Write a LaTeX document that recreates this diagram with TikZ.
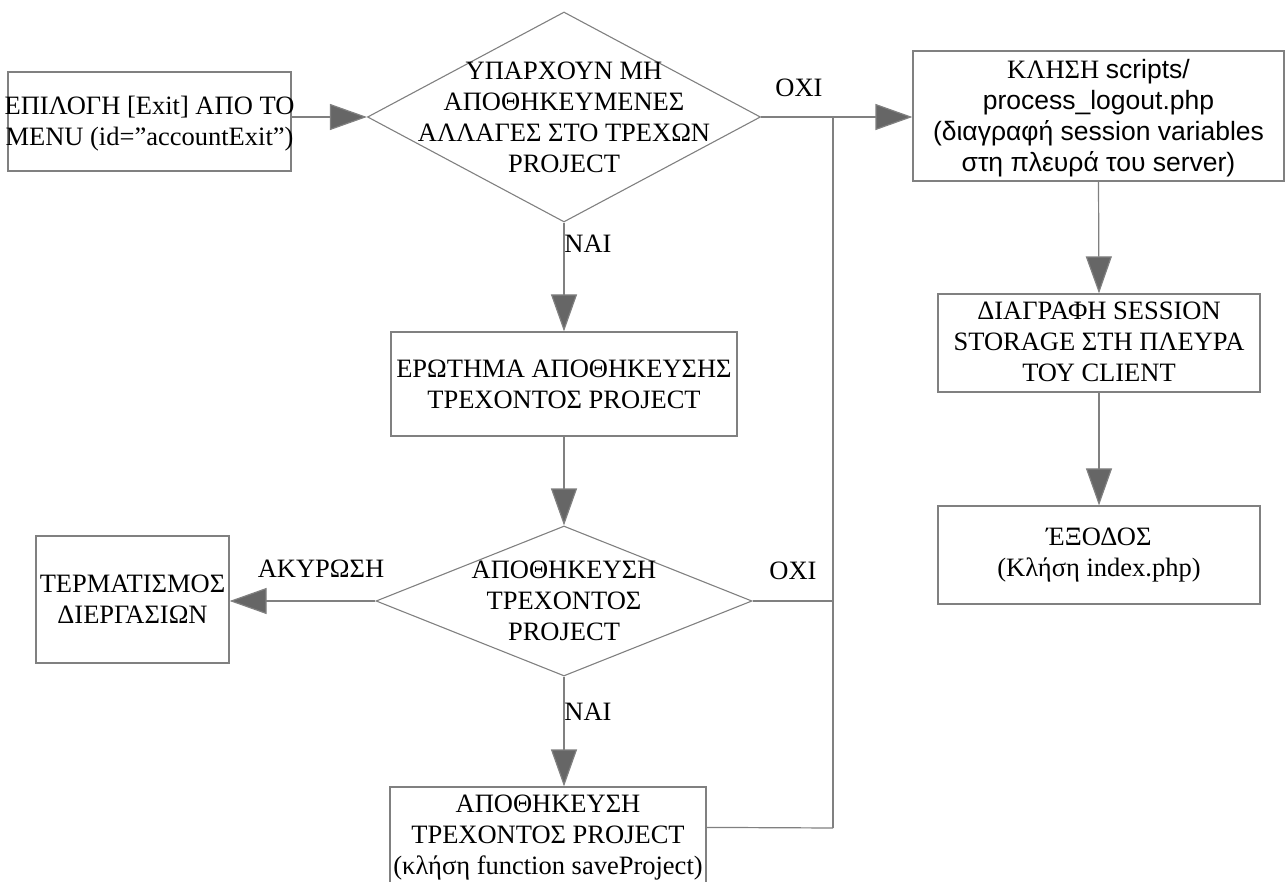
\documentclass[tikz,border=0pt]{standalone}
\usepackage{fontspec}
\setmainfont{Liberation Serif}
\setsansfont{Liberation Sans}
\usetikzlibrary{shapes.geometric,arrows.meta,calc}
\definecolor{edge}{HTML}{808080}
\definecolor{tipfill}{HTML}{666666}
\begin{document}
\begin{tikzpicture}[x=1pt,y=-1pt,
  box/.style={draw=edge, line width=1.2pt, rectangle, inner sep=0pt},
  decision/.style={draw=edge, line width=1.1pt, diamond, inner sep=0pt},
  txt/.style={align=center, font=\fontsize{26.5}{31}\selectfont, inner sep=0pt, text=black},
  flow/.style={draw=edge, line width=1.2pt, -{Triangle[length=37pt,width=26pt,fill=tipfill]}},
  link/.style={draw=edge, line width=1.2pt},
  tag/.style={font=\fontsize{26.5}{31}\selectfont, inner sep=0pt}]
\useasboundingbox (0,0) rectangle (1286,882);
\clip (0,0) rectangle (1286,882);

% process boxes
\node[box, minimum width=283pt, minimum height=99pt,
  label={[txt, yshift=-2.5pt]center:{ΕΠΙΛΟΓΗ [Exit] ΑΠΟ ΤΟ\\MENU (id=”accountExit”)}}]
  (b1) at (149.5,121.5) {};
\node[box, minimum width=346pt, minimum height=104pt,
  label={[txt]center:{ΕΡΩΤΗΜΑ ΑΠΟΘΗΚΕΥΣΗΣ\\ΤΡΕΧΟΝΤΟΣ PROJECT}}]
  (q) at (564,384) {};
\node[box, minimum width=193pt, minimum height=127pt,
  label={[txt]center:{ΤΕΡΜΑΤΙΣΜΟΣ\\ΔΙΕΡΓΑΣΙΩΝ}}]
  (t) at (132.5,599.5) {};
\node[box, minimum width=316pt, minimum height=113pt,
  label={[txt, yshift=5.5pt]center:{ΑΠΟΘΗΚΕΥΣΗ\\ΤΡΕΧΟΝΤΟΣ PROJECT\\(κλήση function saveProject)}}]
  (s) at (548,843.5) {};
\node[box, minimum width=371pt, minimum height=130pt,
  label={[txt, yshift=-2pt]center:{ΚΛΗΣΗ \textsf{scripts/}\\\textsf{process\_logout.php}\\\textsf{(διαγραφή session variables}\\\textsf{στη πλευρά του server)}}}]
  (r1) at (1098.5,116) {};
\node[box, minimum width=322pt, minimum height=98pt,
  label={[txt, yshift=1pt]center:{ΔΙΑΓΡΑΦΗ SESSION\\STORAGE ΣΤΗ ΠΛΕΥΡΑ\\ΤΟΥ CLIENT}}]
  (r2) at (1099,343) {};
\node[box, minimum width=322pt, minimum height=98pt,
  label={[txt]center:{ΈΞΟΔΟΣ\\(Κλήση index.php)}}]
  (r3) at (1099,555) {};

% decisions
\node[decision, minimum width=393pt, minimum height=210pt,
  label={[txt]center:{ΥΠΑΡΧΟΥΝ ΜΗ\\ΑΠΟΘΗΚΕΥΜΕΝΕΣ\\ΑΛΛΑΓΕΣ ΣΤΟ ΤΡΕΧΩΝ\\PROJECT}}]
  (d1) at (564,117) {};
\node[decision, minimum width=376pt, minimum height=150pt,
  label={[txt]center:{ΑΠΟΘΗΚΕΥΣΗ\\ΤΡΕΧΟΝΤΟΣ\\PROJECT}}]
  (d2) at (564,601) {};

% junction points on the shared return line
\coordinate (j1) at (833,117);
\coordinate (j2) at (833,601);
\coordinate (j3) at (833,828);
\coordinate (sout) at ($(s.north east)+(0,41)$);

% connectors
\draw[flow] (b1.east |- d1.west) -- (d1.west);
\draw[flow] (d1.east) -- (d1.east -| r1.west);
\draw[flow] (d1.south) -- (q.north);
\draw[flow] (q.south) -- (d2.north);
\draw[flow] (d2.south) -- (d2.south |- s.north);
\draw[flow] (d2.west) -- (d2.west -| t.east);
\draw[flow] (r1.south) -- (r2.north);
\draw[flow] (r2.south) -- (r3.north);
\draw[link] (j1) -- (j3);
\draw[link] (d2.east) -- (j2);
\draw[link] (sout) -- (j3);

% branch labels
\node[tag] (no1) at (799,88) {ΟΧΙ};
\node[tag] (yes1) at (588,244) {ΝΑΙ};
\node[tag] (cancel) at (321,569) {ΑΚΥΡΩΣΗ};
\node[tag] (no2) at (793,571) {ΟΧΙ};
\node[tag] (yes2) at (588,712) {ΝΑΙ};
\end{tikzpicture}
\end{document}
